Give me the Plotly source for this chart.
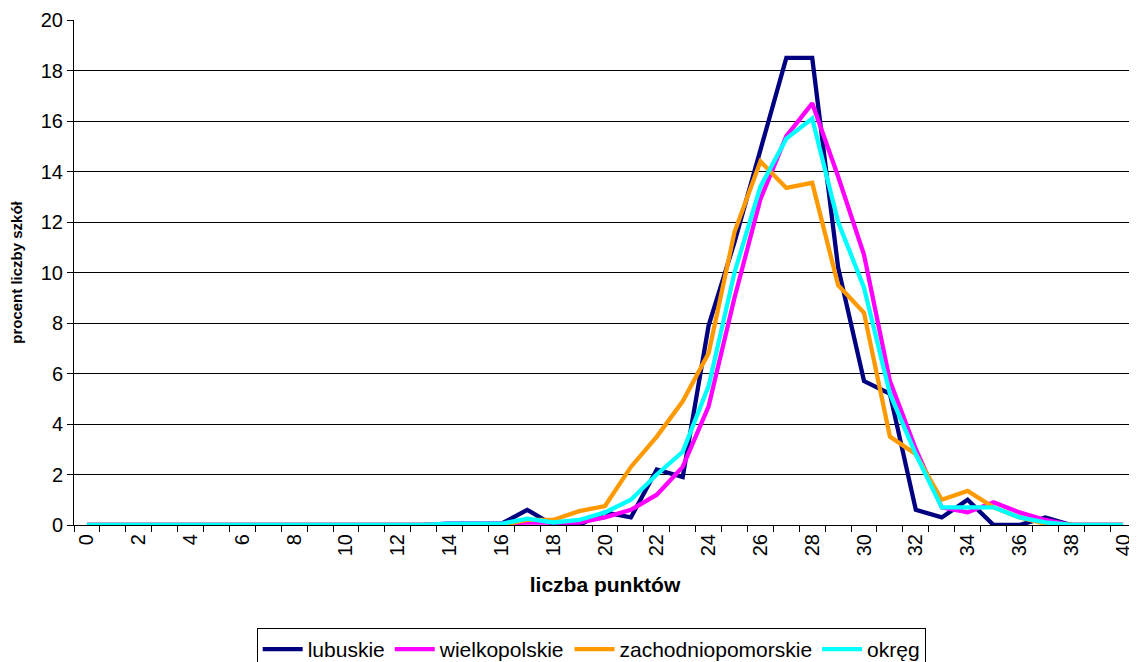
import plotly.graph_objects as go

x_points = list(range(0, 41))

lubuskie = [0]*14 + [0.05, 0.05, 0.05, 0.6, 0.0, 0.0, 0.5, 0.3, 2.2, 1.9, 7.9, 11.2, 14.8, 18.5, 18.5,
            10.2, 5.7, 5.2, 0.6, 0.3, 1.0, 0.0, 0.0, 0.3, 0.0, 0.0, 0.0]
wielkopolskie = [0]*14 + [0.05, 0.05, 0.05, 0.1, 0.1, 0.1, 0.3, 0.6, 1.2, 2.3, 4.7, 9.0, 12.9, 15.4, 16.7,
                 13.8, 10.7, 5.7, 3.0, 0.7, 0.5, 0.9, 0.5, 0.2, 0.0, 0.0, 0.0]
zachodniopomorskie = [0]*14 + [0.0, 0.0, 0.0, 0.2, 0.2, 0.55, 0.75, 2.3, 3.5, 4.9, 6.8, 11.6, 14.4, 13.35, 13.55,
                      9.5, 8.4, 3.5, 2.8, 1.0, 1.35, 0.7, 0.3, 0.05, 0.0, 0.0, 0.0]
okreg = [0]*14 + [0.05, 0.05, 0.05, 0.25, 0.1, 0.2, 0.5, 1.0, 2.0, 2.9, 5.5, 10.0, 13.4, 15.3, 16.1,
         12.0, 9.4, 5.2, 2.8, 0.7, 0.7, 0.7, 0.3, 0.1, 0.0, 0.0, 0.0]

series_names = ["lubuskie", "wielkopolskie", "zachodniopomorskie", "okręg"]
series_values = [lubuskie, wielkopolskie, zachodniopomorskie, okreg]
colors = ["#000080", "#FF00FF", "#FF9900", "#00FFFF"]

x_tick_labels = [str(v) for v in range(0, 41, 2)]
y_tick_vals = list(range(0, 21, 2))

fig = go.Figure()
for name, vals, col in zip(series_names, series_values, colors):
    fig.add_trace(go.Scatter(x=x_points, y=vals, mode="lines", name=name,
                             line=dict(color=col, width=4.3)))

fig.update_layout(
    width=1129, height=654,
    margin=dict(l=66, r=1, t=12, b=137, autoexpand=False),
    plot_bgcolor="white", paper_bgcolor="white",
    font=dict(family="Arial, Liberation Sans, sans-serif", color="black", size=20),
    showlegend=True,
    legend=dict(orientation="h", x=0.487, xanchor="center", y=-0.204, yanchor="top",
                bordercolor="black", borderwidth=1, font=dict(size=21),
                itemwidth=40, tracegroupgap=0),
    xaxis=dict(
        range=[-0.5, 40.5],
        automargin=False,
        tickmode="array",
        tickvals=list(range(0, 41, 2)),
        ticktext=x_tick_labels,
        tickangle=-90,
        ticks="",
        showgrid=False,
        showline=True, linecolor="black", linewidth=1,
        zeroline=False,
        tickfont=dict(size=20),
        minor=dict(tickmode="linear", tick0=0.5, dtick=1, ticks="outside",
                   ticklen=6, tickcolor="black", showgrid=False),
        title=dict(text="<b>liczba punktów</b>", font=dict(size=21), standoff=22),
    ),
    yaxis=dict(
        range=[0, 20],
        automargin=False,
        tickmode="array",
        tickvals=y_tick_vals,
        ticks="outside", ticklen=6, tickcolor="black",
        showgrid=True, gridcolor="black", gridwidth=1,
        showline=True, linecolor="black", linewidth=1,
        zeroline=False,
        tickfont=dict(size=20),
        title=dict(text="<b>procent liczby szkół</b>", font=dict(size=15), standoff=15),
    ),
)

fig.write_html("out.html")
